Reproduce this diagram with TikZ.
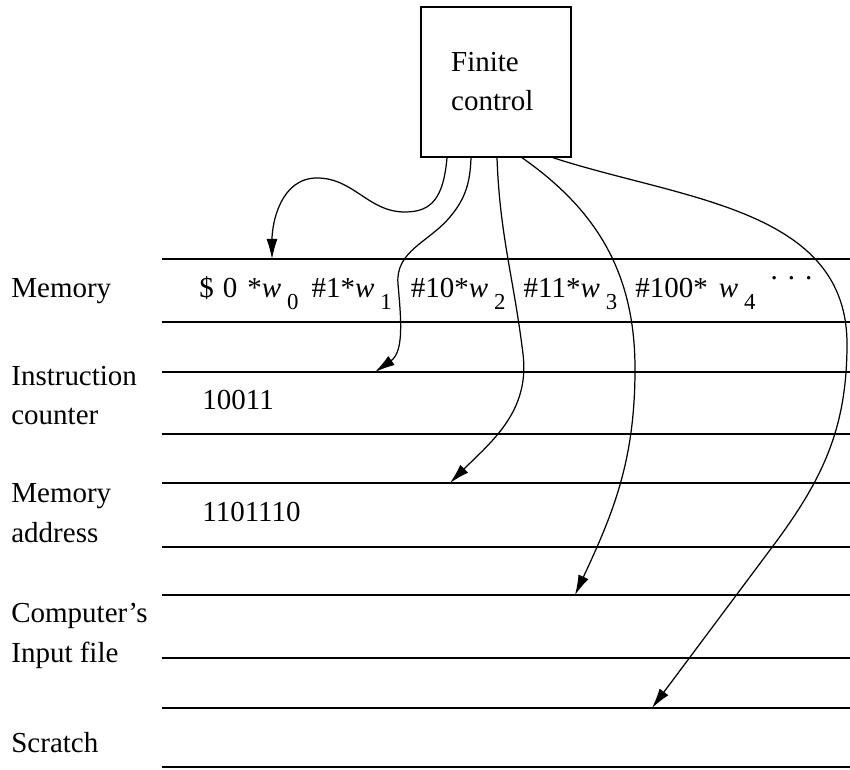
\documentclass[tikz,border=0pt]{standalone}
\usepackage{fontspec}
\setmainfont{Liberation Serif}
\usepackage{tikz}
\usetikzlibrary{arrows.meta,positioning}

\newcommand{\wsub}[1]{\textit{w}\hspace{0.12cm}\raisebox{-0.24cm}{\fontsize{13}{14}\selectfont #1}}

\begin{document}
\begin{tikzpicture}[
    font=\fontsize{16.5}{22.2}\selectfont,
    ctrlbox/.style={draw, line width=0.8pt, align=left, minimum width=3cm, minimum height=3cm, inner sep=0pt},
    tapelabel/.style={anchor=base west, align=left, inner sep=0pt},
    cellentry/.style={anchor=base west, inner sep=0pt},
    tapeline/.style={line width=0.75pt},
    head/.style={-{Latex[length=4mm,width=2.2mm]}, line width=0.7pt}
  ]
  \useasboundingbox (0,0) rectangle (17,15.38);

  % finite control
  \node[ctrlbox] (fc) at (9.92,13.74) {\hspace*{-0.15cm}Finite\\\hspace*{-0.15cm}control};

  % tape names (base = last line)
  \node[tapelabel] (memlbl) at (0.22,9.42) {Memory};
  \node[tapelabel] (iclbl) at (0.22,6.88) {Instruction\\counter};
  \node[tapelabel] (malbl) at (0.22,4.54) {Memory\\address};
  \node[tapelabel] (inlbl) at (0.22,2.14) {Computer's\\Input file};
  \node[tapelabel] (scrlbl) at (0.22,0.34) {Scratch};

  % tape contents
  \node[cellentry] (memtxt) at (3.98,9.42) {\fontsize{16.5}{18}\selectfont
    \$\hspace{0.18cm}0\hspace{0.2cm}*\wsub{0}\hspace{0.26cm}\#1*\wsub{1}\hspace{0.38cm}\#10*\wsub{2}\hspace{0.36cm}\#11*\wsub{3}\hspace{0.36cm}\#100*\hspace{0.22cm}\wsub{4}\hspace{0.3cm}\raisebox{0.36cm}{.\hspace{0.2cm}.\hspace{0.2cm}.}};
  \node[cellentry] (ictxt) at (4.04,7.18) {10011};
  \node[cellentry] (matxt) at (4.04,4.94) {1101110};

  % tapes
  \draw[tapeline] (3.24,10.2) -- (17,10.2);
  \draw[tapeline] (3.24,8.94) -- (17,8.94);
  \draw[tapeline] (3.24,7.94) -- (17,7.94);
  \draw[tapeline] (3.24,6.7) -- (17,6.7);
  \draw[tapeline] (3.24,5.72) -- (17,5.72);
  \draw[tapeline] (3.24,4.44) -- (17,4.44);
  \draw[tapeline] (3.24,3.48) -- (17,3.48);
  \draw[tapeline] (3.24,2.22) -- (17,2.22);
  \draw[tapeline] (3.24,1.22) -- (17,1.22);
  \draw[tapeline] (3.24,0.04) -- (17,0.04);

  % heads
  \coordinate (memcell) at (5.44,10.2);
  \coordinate (iccell) at (7.5,7.94);
  \coordinate (macell) at (9.0,5.72);
  \coordinate (incell) at (11.5,3.48);
  \coordinate (scrcell) at (13.04,1.22);

  \draw[head] ([xshift=-0.98cm]fc.south) to[out=-95,in=0,out looseness=1.5] (8.1,11.14)
    to[out=180,in=0] (6.34,11.82) to[out=180,in=90] (memcell);
  \draw[head] ([xshift=-0.5cm]fc.south) to[out=-92,in=50] (9.0,11.04)
    to[out=230,in=95] (7.96,9.7) to[out=-85,in=35] (iccell);
  \draw[head] ([xshift=0.02cm]fc.south) to[out=-88,in=97] (10.46,8.3)
    to[out=-83,in=45] (macell);
  \draw[head] ([xshift=0.52cm]fc.south) to[out=-35,in=90] (12.7,8.0)
    to[out=-90,in=65] (incell);
  \draw[head] ([xshift=1.14cm]fc.south) to[out=-18,in=90] (16.94,8.5)
    to[out=-90,in=53] (15.4,4.38) -- (scrcell);
\end{tikzpicture}
\end{document}
